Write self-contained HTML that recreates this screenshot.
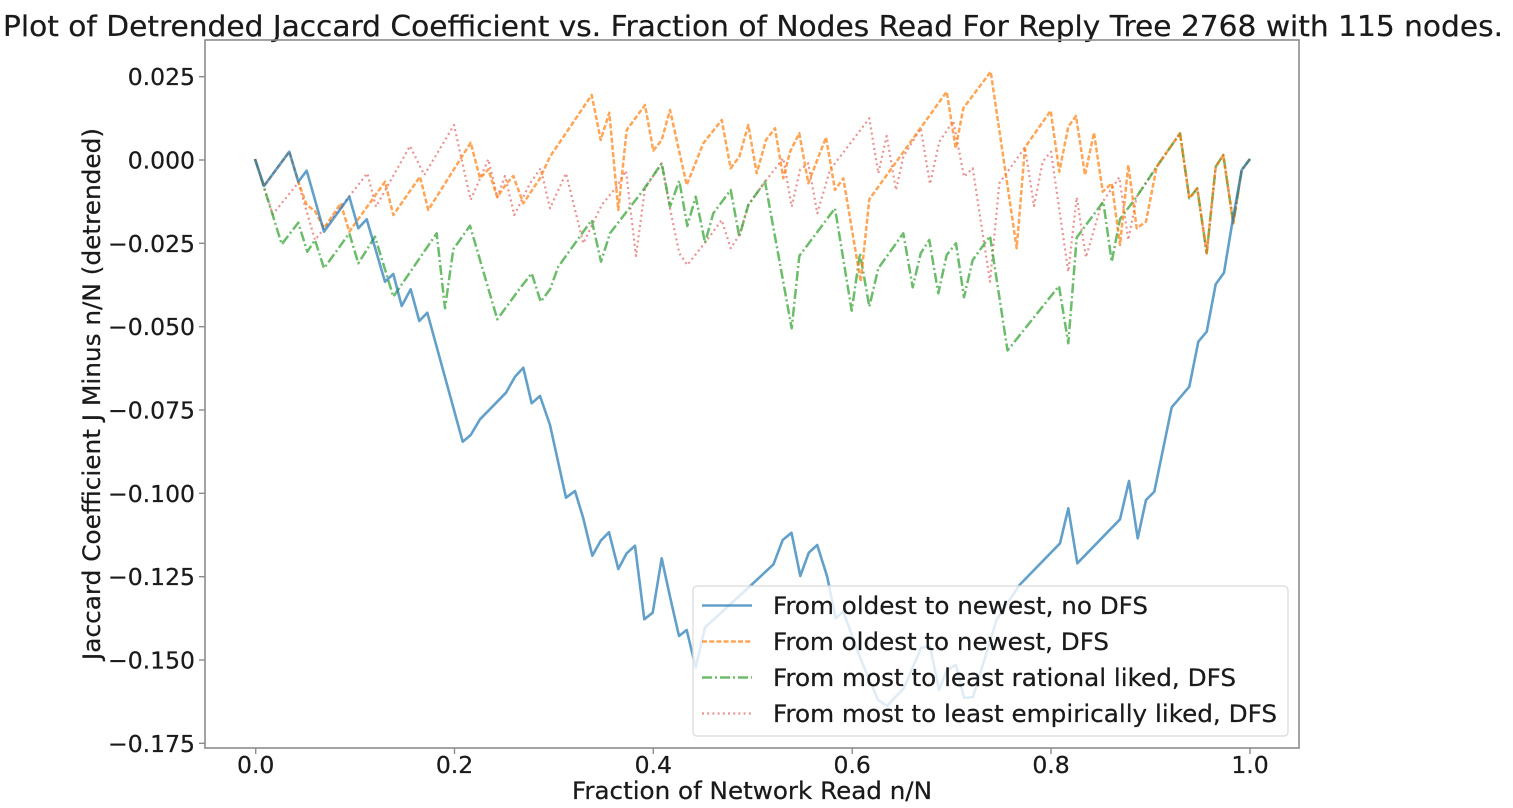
<!DOCTYPE html>
<html>
<head>
<meta charset="utf-8">
<style>
html,body{margin:0;padding:0;background:#fff;}
svg{display:block;}
text{font-family:"DejaVu Sans","Liberation Sans",sans-serif;fill:#1a1a1a;stroke:#1a1a1a;stroke-width:0.25;}
</style>
</head>
<body>
<svg width="1513" height="808" viewBox="0 0 1513 808" xmlns="http://www.w3.org/2000/svg">
<defs>
<clipPath id="ax"><rect x="205" y="40" width="1094" height="708"/></clipPath>
</defs>
<rect width="1513" height="808" fill="#fff"/>

<!-- title -->
<text x="3" y="36" font-size="28.8" textLength="1500" lengthAdjust="spacingAndGlyphs">Plot of Detrended Jaccard Coefficient vs. Fraction of Nodes Read For Reply Tree 2768 with 115 nodes.</text>

<!-- series -->
<g clip-path="url(#ax)" fill="none" stroke-linejoin="round">
<!-- pink dotted -->
<polyline stroke="#d62728" stroke-opacity="0.5" stroke-width="2.2" stroke-dasharray="2 3.2" points="255,159 263.3,185 272.7,214.3 298.3,182.7 315,240 367.3,173.3 376,206.7 410,146 424.3,175 454,125 470.7,200 488.3,159.3 497.3,197.3 505,176 514.3,215 530,183.3 540.7,168.3 550,208.3 566,173.3 583.3,243.3 601.7,205 616.7,186.7 626,170.7 636,256 645,188.3 661.7,163.3 670,208.3 679.3,253.3 687.3,265 705,242.7 721.7,220 730.7,248.3 739.3,235 748.3,205 765,181.7 783.3,158.3 791.7,206.7 800,170 808.3,163.3 817.3,213.3 830,170 869.3,118.3 878.3,173.3 886.7,136 896,190 903.3,156.7 920.7,128.3 930,184 939.3,141.7 953.3,121 964,176.7 972.7,168.3 990,281.7 999.3,183.3 1025,147.3 1034,206 1042.7,161.7 1051,151.7 1068.3,271.7 1076.7,197.3 1086,257.3 1101.7,203.3 1119.3,177.3 1128.3,240 1136.7,196.7 1156.7,166.7 1180,133.3 1189.3,198.3 1197.3,188.3 1206.7,253.3 1215.7,166.7 1223.3,155 1233.3,223.3 1241.7,170 1250,159"/>
<!-- green dash-dot -->
<polyline stroke="#2ca02c" stroke-opacity="0.7" stroke-width="2.5" stroke-dasharray="10 3 2 3" points="255,159 272.7,215 281.7,244.3 298.3,222.7 307.3,251.7 315,240 324,268.3 349.3,233.3 358.3,263.3 375,236.7 393.3,296.7 436.7,233.3 445,308.3 453.3,249.3 470,225.7 497.3,319.3 520,288.3 531.7,273.3 540.7,301.7 550,289.3 558.3,266.7 591.7,220 601,261.7 610,233.3 643.3,190 661.7,163.3 670,206.7 679.3,180.7 687.3,226 695.7,196.7 705,242.7 713.3,213.3 730.7,190 739.3,236.7 748.3,205 765,181.7 791.7,328.3 799.3,256 835,208.3 851.7,310.7 860,253.3 869.3,306.7 878.3,268.3 903.3,233.3 912.7,287.3 920.7,253.3 929.3,240 938.3,293.3 946.7,255 956,243.3 964,297.3 972.7,260 990,236 1007.5,350.5 1059,286 1068.3,343.3 1076.7,237.5 1103.3,201.7 1111.7,261.7 1120,219 1136.7,196.7 1156.7,166.7 1180,133.3 1189.3,198.3 1197.3,188.3 1206.7,253.3 1215.7,166.7 1223.3,155 1233.3,223.3 1241.7,170 1250,159"/>
<!-- orange dashed -->
<polyline stroke="#ff7f0e" stroke-opacity="0.7" stroke-width="2.5" stroke-dasharray="5 2.2" points="255,159 264,186 289.3,151.7 298.3,181.7 306.7,205 315,211 324,228.3 340.7,203.3 349.3,231.7 385,181.7 393.3,215 420,176.7 428.3,210 470.7,142.7 480,178.3 488.3,169.3 497.3,197.3 506.7,183.3 513.3,176 523.3,203.3 540,178.3 550,156.7 591.7,95 600.7,140 609.3,112.7 618.3,210 626.7,130 645,105 653.3,150.7 661.7,140 670,110 686.7,185 703.3,143.3 721.7,120 730.7,168.3 739.3,156.7 748.3,125 756.7,173.3 766,140 775,128.3 783.3,178.3 790,151.7 799.3,133.3 808.3,183.3 826,137.3 835,190 843.3,178.3 860.7,281.7 869.3,199.3 946.7,91.7 955.7,148.3 963.3,108.3 990.7,71.7 1016.7,248.3 1025,147.3 1050.7,110.7 1059.3,171.7 1068.3,126.7 1076,116 1085,175 1094,132.7 1102.7,191.7 1111.7,183.3 1120,245 1128.3,165 1136.7,228.3 1146,221.7 1156.7,166.7 1180,133.3 1189.3,198.3 1197.3,188.3 1206.7,253.3 1215.7,166.7 1223.3,155 1233.3,223.3 1241.7,170 1250,159"/>
<!-- blue solid -->
<polyline stroke="#1f77b4" stroke-opacity="0.7" stroke-width="2.6" points="255,159 264,186 289.3,151.7 298.3,181.7 306.7,170.7 324,231.7 349.3,196.7 358.3,228.3 366.7,219.3 385,281.7 393.3,274 401.7,306 410.7,289.3 419.3,321 427.3,312.7 462.7,441.7 470.7,435 480,419.3 506,392.7 515,376.7 523.3,367.7 531.7,403.3 540,396 550,425 566,497.7 575,491 583.3,518.3 592.3,555.7 600.7,540.7 609,532.3 618.3,569 626.7,553.3 635,545.7 644.3,619.3 652.7,612.7 661.7,558.3 670,596.7 679,636 686.7,630 695.7,667.5 705,627.5 751.3,585 773.5,564.3 782.7,540 791.5,532.7 800.3,576 808.8,552.7 817.2,545 827.2,576.7 835.6,618.3 843.3,611.7 861,660 878,700 887,706 904,688 921,648 930,646 939,690 947,670 956,665 964,698 973,697 996.5,620 1019.5,585 1060,543.3 1068.3,508.3 1077.3,563.3 1120,519.3 1129,481 1137.7,538.3 1146,500 1154.3,491.7 1171.7,407.3 1189.3,386.7 1198.3,341.7 1206.7,331.7 1215.7,284.3 1224,272.7 1232.3,222.5 1241.7,170 1250,159"/>
</g>

<!-- axes frame -->
<rect x="205" y="40" width="1094" height="708" fill="none" stroke="#8c8c8c" stroke-width="1.6"/>

<!-- ticks -->
<g stroke="#8c8c8c" stroke-width="1.4">
<line x1="199" y1="76.7" x2="205" y2="76.7"/>
<line x1="199" y1="160" x2="205" y2="160"/>
<line x1="199" y1="243.3" x2="205" y2="243.3"/>
<line x1="199" y1="326.7" x2="205" y2="326.7"/>
<line x1="199" y1="410" x2="205" y2="410"/>
<line x1="199" y1="493.3" x2="205" y2="493.3"/>
<line x1="199" y1="576.7" x2="205" y2="576.7"/>
<line x1="199" y1="660" x2="205" y2="660"/>
<line x1="199" y1="743.3" x2="205" y2="743.3"/>
<line x1="255.7" y1="748" x2="255.7" y2="754"/>
<line x1="454.5" y1="748" x2="454.5" y2="754"/>
<line x1="653.3" y1="748" x2="653.3" y2="754"/>
<line x1="852.2" y1="748" x2="852.2" y2="754"/>
<line x1="1051" y1="748" x2="1051" y2="754"/>
<line x1="1250" y1="748" x2="1250" y2="754"/>
</g>
<g font-size="23.5" text-anchor="end">
<text x="195" y="85.2">0.025</text>
<text x="195" y="168.5">0.000</text>
<text x="195" y="251.8">−0.025</text>
<text x="195" y="335.2">−0.050</text>
<text x="195" y="418.5">−0.075</text>
<text x="195" y="501.8">−0.100</text>
<text x="195" y="585.2">−0.125</text>
<text x="195" y="668.5">−0.150</text>
<text x="195" y="751.8">−0.175</text>
</g>
<g font-size="23.5" text-anchor="middle">
<text x="255.7" y="773">0.0</text>
<text x="454.5" y="773">0.2</text>
<text x="653.3" y="773">0.4</text>
<text x="852.2" y="773">0.6</text>
<text x="1051" y="773">0.8</text>
<text x="1250" y="773">1.0</text>
</g>

<!-- axis labels -->
<text x="752" y="799" font-size="24" text-anchor="middle" textLength="360" lengthAdjust="spacingAndGlyphs">Fraction of Network Read n/N</text>
<text transform="translate(100,394) rotate(-90)" x="0" y="0" font-size="24" text-anchor="middle" textLength="532" lengthAdjust="spacingAndGlyphs">Jaccard Coefficient J Minus n/N (detrended)</text>

<!-- legend -->
<rect x="693" y="586" width="595" height="150" rx="4" ry="4" fill="#fff" fill-opacity="0.8" stroke="#d9d9d9" stroke-width="1.2"/>
<line x1="702" y1="605.5" x2="752" y2="605.5" stroke="#1f77b4" stroke-opacity="0.7" stroke-width="2.6"/>
<line x1="702" y1="641.5" x2="752" y2="641.5" stroke="#ff7f0e" stroke-opacity="0.7" stroke-width="2.5" stroke-dasharray="5 2.2"/>
<line x1="702" y1="677.5" x2="752" y2="677.5" stroke="#2ca02c" stroke-opacity="0.7" stroke-width="2.5" stroke-dasharray="10 3 2 3"/>
<line x1="702" y1="713.5" x2="752" y2="713.5" stroke="#d62728" stroke-opacity="0.5" stroke-width="2.2" stroke-dasharray="2 3.2"/>
<g font-size="24">
<text x="773" y="614" textLength="375" lengthAdjust="spacingAndGlyphs">From oldest to newest, no DFS</text>
<text x="773" y="650" textLength="336" lengthAdjust="spacingAndGlyphs">From oldest to newest, DFS</text>
<text x="773" y="686" textLength="463" lengthAdjust="spacingAndGlyphs">From most to least rational liked, DFS</text>
<text x="773" y="722" textLength="504" lengthAdjust="spacingAndGlyphs">From most to least empirically liked, DFS</text>
</g>
</svg>
</body>
</html>
